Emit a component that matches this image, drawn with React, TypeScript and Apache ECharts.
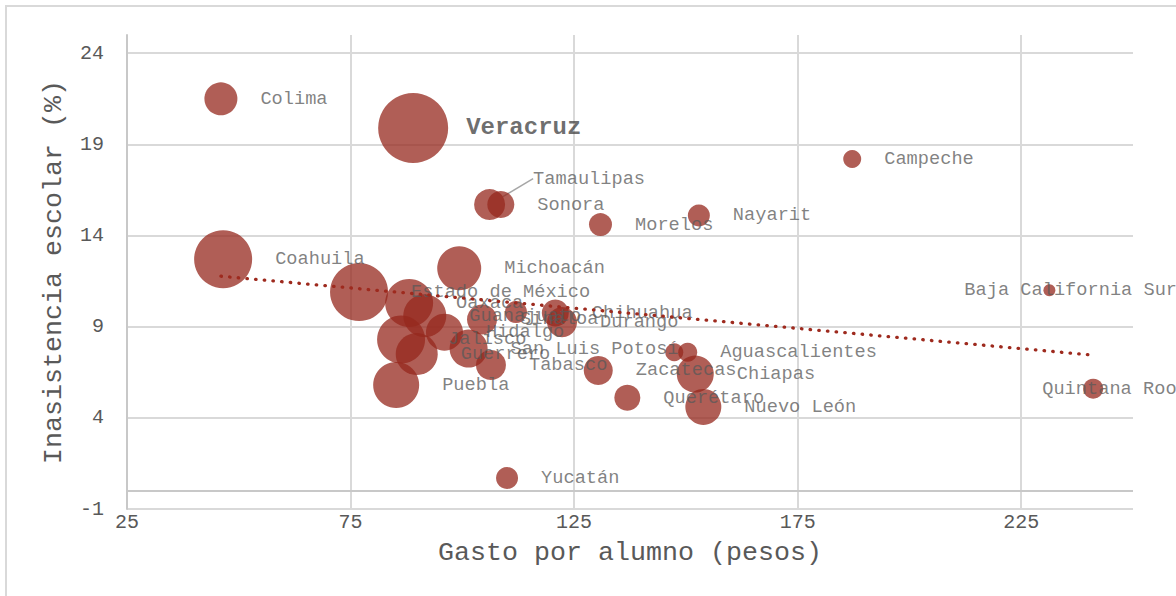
import React, { useEffect, useRef } from "react";
import * as echarts from "echarts";

const estados = [
  "Colima", "Veracruz", "Campeche", "Tamaulipas", "Sonora", "Morelos", "Nayarit",
  "Coahuila", "Michoacán", "Estado de México", "Oaxaca", "Guanajuato", "Hidalgo",
  "Jalisco", "Guerrero", "San Luis Potosí", "Tabasco", "Puebla", "Sinaloa",
  "Chihuahua", "Durango", "Zacatecas", "Aguascalientes", "Tlaxcala", "Chiapas",
  "Querétaro", "Nuevo León", "Baja California Sur", "Quintana Roo", "Yucatán",
  "Ciudad de México",
];
const gasto = [
  46.0, 89.0, 187.2, 106.1, 108.6, 130.9, 152.9,
  46.5, 99.3, 76.9, 88.1, 91.6, 96.0,
  86.3, 89.8, 101.4, 106.4, 85.2, 104.4,
  120.8, 122.3, 130.4, 150.4, 147.4, 152.1,
  136.9, 153.9, 231.3, 241.1, 110.0,
  112.0,
];
const inasistencia = [
  21.5, 19.9, 18.2, 15.7, 15.7, 14.6, 15.1,
  12.7, 12.2, 10.9, 10.3, 9.6, 8.7,
  8.3, 7.5, 7.8, 6.9, 5.8, 9.4,
  9.75, 9.25, 6.6, 7.6, 7.6, 6.4,
  5.1, 4.6, 11.0, 5.6, 0.7,
  9.8,
];
const peso = [
  22.2, 100, 6.6, 19.6, 14.9, 10.8, 9.9,
  68.7, 39.5, 68.7, 47.0, 37.7, 27.9,
  47.0, 36.0, 29.5, 18.4, 43.2, 18.4,
  14.9, 18.4, 17.2, 7.4, 6.6, 27.9,
  13.8, 26.4, 2.9, 8.2, 9.9,
  9.9,
];
const sinEtiqueta = ["Tlaxcala", "Ciudad de México"];
const destacado = "Veracruz";
const tendenciaX = [46.0, 241.1];
const tendenciaY = [11.77, 7.44];

const FONT = "'Liberation Mono', 'Courier New', monospace";
const GRAY = "#595959";

const desplazamientos: Record<string, { dx: number; dy: number }> = {
  Tamaulipas: { dx: 5, dy: -26 },
  "Baja California Sur": { dx: -114, dy: 0 },
  "Quintana Roo": { dx: -84, dy: 0 },
};

export default function App() {
  const ref = useRef<HTMLDivElement>(null);
  useEffect(() => {
    document.body.style.margin = "0";
    if (!ref.current) return;
    const chart = echarts.init(ref.current, undefined, { renderer: "svg" });

    const data = estados.map((name, i) => {
      const item: any = { name, value: [gasto[i], inasistencia[i], peso[i]] };
      if (sinEtiqueta.includes(name)) item.label = { show: false };
      if (name === destacado)
        item.label = { fontWeight: "bold", fontSize: 24, color: "#404040", distance: 18 };
      if (name === "Tamaulipas")
        item.labelLine = { show: true, lineStyle: { color: "#a6a6a6", width: 1.5 } };
      return item;
    });

    const trend = tendenciaX.map((x, i) => [x, tendenciaY[i]]);

    chart.setOption({
      animation: false,
      graphic: [
        {
          type: "rect",
          shape: { x: 6, y: 6, width: 1200, height: 620 },
          style: { fill: "none", stroke: "#d9d9d9", lineWidth: 2 },
          silent: true,
        },
      ],
      grid: { left: 127, right: 43, top: 35, bottom: 87, containLabel: false },
      xAxis: {
        type: "value",
        min: 25,
        max: 250,
        interval: 50,
        name: "Gasto por alumno (pesos)",
        nameLocation: "middle",
        nameGap: 30,
        nameTextStyle: { fontFamily: FONT, fontSize: 26.67, color: GRAY },
        axisLine: { show: false },
        axisTick: { show: false },
        axisLabel: {
          fontFamily: FONT, fontSize: 20, color: GRAY, margin: 3,
          showMaxLabel: false,
        },
        splitLine: {
          show: true, showMinLine: true, showMaxLine: false,
          lineStyle: { color: "#d9d9d9", width: 2 },
        },
      },
      yAxis: {
        type: "value",
        min: -1,
        max: 25,
        interval: 5,
        name: "Inasistencia escolar (%)",
        nameLocation: "middle",
        nameGap: 60,
        nameTextStyle: { fontFamily: FONT, fontSize: 26.67, color: GRAY },
        axisLine: { show: true, onZero: false, lineStyle: { color: "#c8c8c8", width: 2 } },
        axisTick: { show: false },
        axisLabel: {
          fontFamily: FONT, fontSize: 20, color: GRAY, margin: 23,
          showMaxLabel: false,
        },
        splitLine: {
          show: true, showMinLine: true, showMaxLine: false,
          lineStyle: { color: "#d9d9d9", width: 2 },
        },
      },
      series: [
        {
          type: "scatter",
          data,
          symbolSize: (v: number[]) => 7 * Math.sqrt(v[2]),
          itemStyle: { color: "rgb(150,40,30)", opacity: 0.75 },
          label: {
            show: true,
            position: "right",
            distance: 23,
            formatter: "{b}",
            fontFamily: FONT,
            fontSize: 18.67,
            color: GRAY,
          },
          labelLayout: (params: any) => {
            const n = estados[params.dataIndex];
            return desplazamientos[n] || {};
          },
          markLine: {
            silent: true,
            symbol: "none",
            label: { show: false },
            lineStyle: { color: "#c8c8c8", width: 2, type: "solid" },
            data: [{ yAxis: 0 }],
          },
          z: 2,
        },
        {
          type: "line",
          data: trend,
          showSymbol: false,
          symbol: "none",
          lineStyle: { color: "#9e2a1e", width: 3.3, type: [0.5, 8.2], cap: "round" },
          z: 3,
          silent: true,
        },
      ],
    });
    return () => chart.dispose();
  }, []);
  return <div ref={ref} style={{ width: 1176, height: 596 }} />;
}
